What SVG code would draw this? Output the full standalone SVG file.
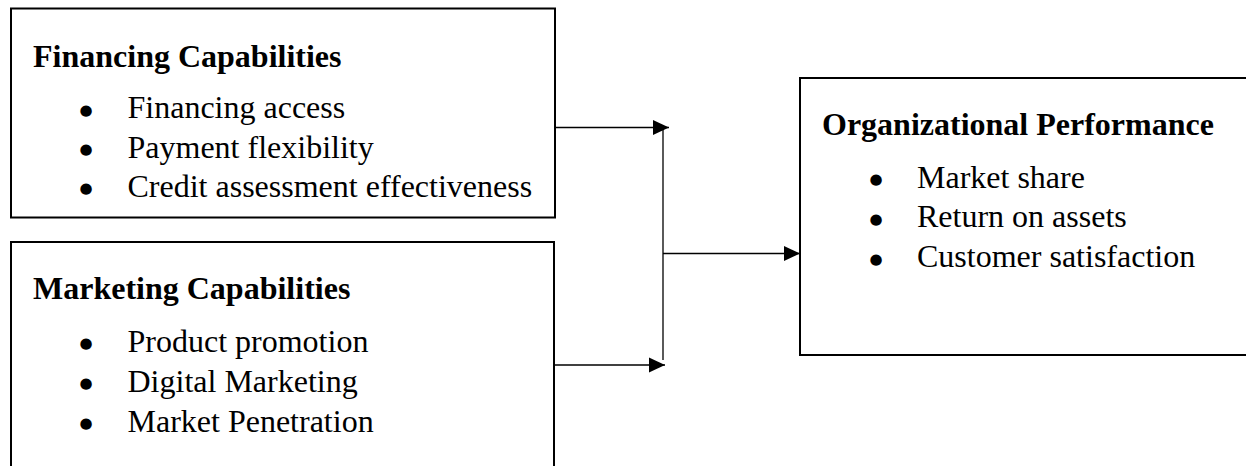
<svg xmlns="http://www.w3.org/2000/svg" width="1246" height="466" viewBox="0 0 1246 466">
  <style>
    .box { fill: #ffffff; stroke: #000000; stroke-width: 2; }
    .title { font-family: "Liberation Serif", "Times New Roman", serif; font-size: 32px; font-weight: bold; fill: #000; }
    .item { font-family: "Liberation Serif", "Times New Roman", serif; font-size: 32px; fill: #000; }
    .bullet { font-family: "DejaVu Sans", sans-serif; font-size: 15px; text-anchor: middle; }
    .conn { fill: none; stroke: #000; stroke-width: 1.3; }
  </style>
  <defs>
    <marker id="arrow" markerUnits="userSpaceOnUse" markerWidth="16" markerHeight="16" viewBox="0 0 16 16" refX="16" refY="8" orient="auto">
      <path d="M0,0.5 L16,8 L0,15.5 Z" fill="#000"/>
    </marker>
  </defs>
  <rect width="1246" height="466" fill="#ffffff"/>

  <g id="financing">
    <rect class="box" x="11" y="8.5" width="544" height="209"/>
    <text class="title" x="33" y="66.5">Financing Capabilities</text>
    <text class="item"><tspan class="bullet" x="86" y="114.5">●</tspan><tspan x="127.5" y="118">Financing access</tspan></text>
    <text class="item"><tspan class="bullet" x="86" y="154">●</tspan><tspan x="127.5" y="157.5">Payment flexibility</tspan></text>
    <text class="item"><tspan class="bullet" x="86" y="193">●</tspan><tspan x="127.5" y="196.5">Credit assessment effectiveness</tspan></text>
  </g>

  <g id="marketing">
    <rect class="box" x="11" y="242" width="543" height="240"/>
    <text class="title" x="33" y="298.5">Marketing Capabilities</text>
    <text class="item"><tspan class="bullet" x="86" y="348">●</tspan><tspan x="127.5" y="351.5">Product promotion</tspan></text>
    <text class="item"><tspan class="bullet" x="86" y="388">●</tspan><tspan x="127.5" y="391.5">Digital Marketing</tspan></text>
    <text class="item"><tspan class="bullet" x="86" y="428">●</tspan><tspan x="127.5" y="431.5">Market Penetration</tspan></text>
  </g>

  <g id="performance">
    <rect class="box" x="800" y="78" width="460" height="277"/>
    <text class="title" x="822" y="135">Organizational Performance</text>
    <text class="item"><tspan class="bullet" x="876" y="184">●</tspan><tspan x="917" y="187.5">Market share</tspan></text>
    <text class="item"><tspan class="bullet" x="876" y="223.5">●</tspan><tspan x="917" y="227">Return on assets</tspan></text>
    <text class="item"><tspan class="bullet" x="876" y="263.5">●</tspan><tspan x="917" y="267">Customer satisfaction</tspan></text>
  </g>

  <g id="connectors">
    <line class="conn" x1="556" y1="127.5" x2="669" y2="127.5" marker-end="url(#arrow)"/>
    <line class="conn" x1="555" y1="365" x2="665" y2="365" marker-end="url(#arrow)"/>
    <line class="conn" x1="663" y1="127.5" x2="663" y2="360"/>
    <line class="conn" x1="663" y1="253.5" x2="800" y2="253.5" marker-end="url(#arrow)"/>
  </g>
</svg>
